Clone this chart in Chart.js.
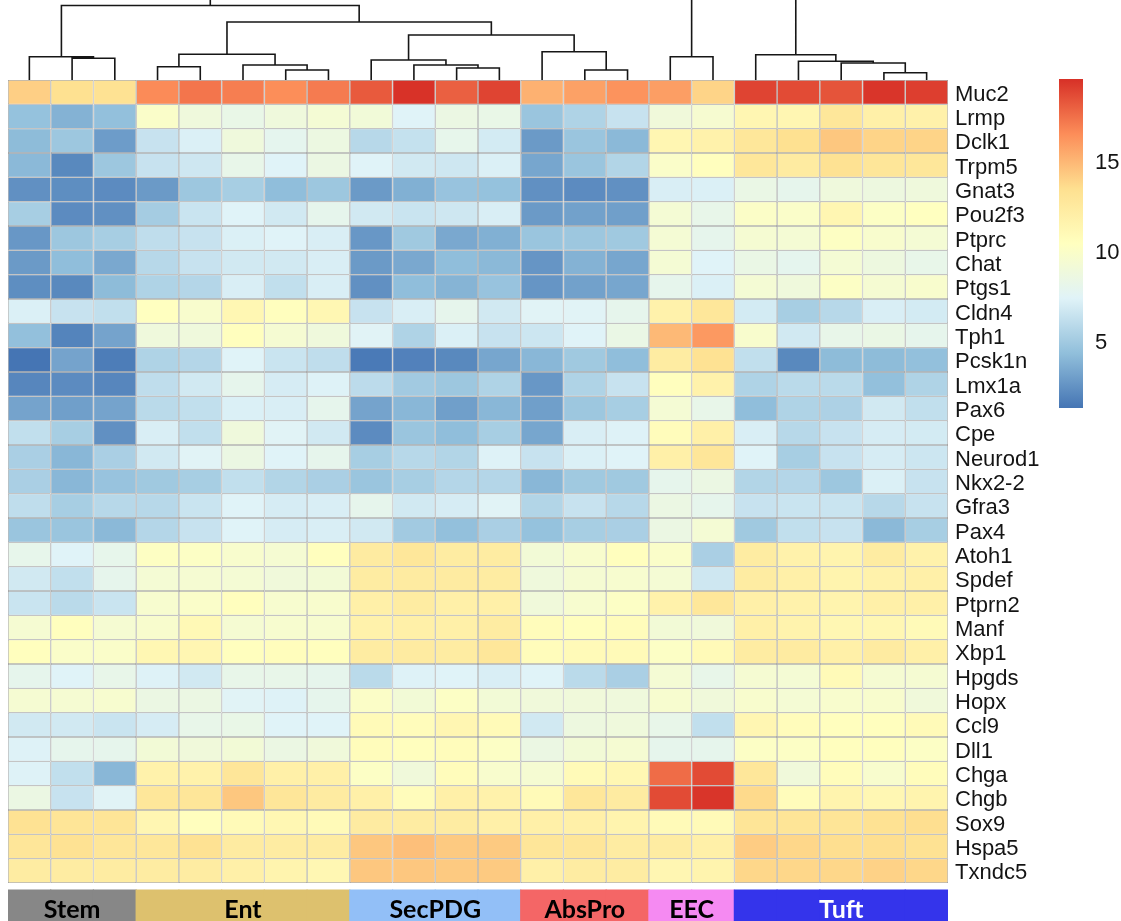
<!DOCTYPE html>
<html>
<head>
<meta charset="utf-8">
<title>Marker gene expression heatmap</title>
<script src="https://cdn.jsdelivr.net/npm/chart.js@4.4.1/dist/chart.umd.min.js"></script>
<style>
  html, body { margin: 0; padding: 0; background: #ffffff; }
  #wrap { position: relative; width: 1121px; height: 921px; overflow: hidden; }
  #heat { position: absolute; left: 0; top: 0; }
  #key { position: absolute; left: 1040px; top: 60px; }
</style>
</head>
<body>
<div id="wrap">
  <canvas id="heat" width="1121" height="921"></canvas>
  <canvas id="key" width="81" height="370"></canvas>
</div>
<script>
// ---- data ----------------------------------------------------------------
const genes = ['Muc2','Lrmp','Dclk1','Trpm5','Gnat3','Pou2f3','Ptprc','Chat','Ptgs1','Cldn4','Tph1',
  'Pcsk1n','Lmx1a','Pax6','Cpe','Neurod1','Nkx2-2','Gfra3','Pax4','Atoh1','Spdef','Ptprn2','Manf',
  'Xbp1','Hpgds','Hopx','Ccl9','Dll1','Chga','Chgb','Sox9','Hspa5','Txndc5'];

const sampleGroups = ['Stem','Stem','Stem','Ent','Ent','Ent','Ent','Ent','SecPDG','SecPDG','SecPDG','SecPDG',
  'AbsPro','AbsPro','AbsPro','EEC','EEC','Tuft','Tuft','Tuft','Tuft','Tuft'];

const groupOrder = ['Stem','Ent','SecPDG','AbsPro','EEC','Tuft'];

// log2 expression, one row per gene, columns follow sampleGroups
const expr = [
  [14.2,13.5,13.4,16.7,17.4,17.1,16.6,17.2,18.3,19.6,18.1,19.0,15.3,15.9,16.4,16.0,14.0,19.0,18.8,18.5,19.5,19.2], // Muc2
  [4.6,3.9,4.5,10.0,9.0,8.4,9.0,9.4,9.2,7.5,8.6,8.4,4.8,5.6,6.5,9.1,9.6,11.4,11.4,12.9,12.0,11.9],          // Lrmp
  [4.3,4.9,3.0,6.5,7.3,9.0,8.0,8.7,5.9,6.4,8.2,7.0,2.9,4.8,4.2,11.4,11.8,12.9,13.5,14.5,14.0,14.0],         // Dclk1
  [4.2,2.2,4.9,6.5,6.8,8.3,7.5,8.6,7.5,6.9,6.8,7.3,3.4,4.8,5.7,10.0,10.6,12.9,12.5,13.4,13.0,12.9],         // Trpm5
  [2.5,2.4,2.3,2.9,4.9,5.3,4.4,4.9,2.9,3.8,4.7,4.6,2.5,2.3,2.5,7.2,7.3,8.5,8.1,9.0,8.8,9.0],                // Gnat3
  [5.3,2.3,2.5,5.2,6.6,7.5,6.9,8.1,6.9,6.6,6.8,7.2,2.9,3.2,3.1,9.4,8.3,10.1,10.0,11.4,10.2,10.5],          // Pou2f3
  [2.8,4.9,5.3,6.2,6.5,7.3,7.5,7.2,2.8,5.0,3.5,3.8,4.8,4.9,5.0,9.4,8.1,9.5,9.4,10.3,9.8,9.4],              // Ptprc
  [2.9,4.4,3.5,5.9,6.5,6.9,6.9,7.2,2.9,3.5,4.4,4.2,2.7,3.9,3.4,9.4,7.5,8.5,8.0,9.4,8.8,8.3],                // Chat
  [2.4,2.2,4.3,5.6,5.8,7.2,6.3,7.2,2.5,4.4,4.0,4.7,2.7,3.2,3.4,8.1,7.3,9.4,9.0,10.2,9.5,9.8],               // Ptgs1
  [7.3,6.5,6.3,10.5,9.8,11.3,10.6,11.3,6.5,7.2,8.1,6.9,7.6,7.6,8.1,11.8,12.9,7.0,5.3,5.9,7.2,7.0],         // Cldn4
  [4.5,2.0,3.3,9.0,9.0,10.6,9.5,9.0,7.6,5.6,7.3,6.5,6.7,7.5,8.5,15.0,16.2,9.8,6.9,8.3,8.5,8.1],            // Tph1
  [1.4,3.3,1.7,5.6,5.8,7.5,6.6,6.2,1.6,1.9,2.2,3.4,4.1,5.0,4.4,12.4,13.4,6.3,2.2,4.3,4.3,4.5],             // Pcsk1n
  [2.1,2.3,2.1,6.2,6.9,8.1,7.1,7.4,6.1,5.1,4.9,5.6,2.8,5.6,6.5,10.6,11.8,5.6,6.0,6.0,4.5,5.6],             // Lmx1a
  [3.3,3.1,3.3,6.0,6.3,7.3,7.2,8.1,3.3,4.1,3.1,4.1,3.1,4.9,5.3,9.4,8.3,4.4,5.6,5.5,6.9,6.3],               // Pax6
  [6.3,5.3,2.5,7.2,6.3,9.0,7.6,6.9,2.3,4.8,4.4,5.3,3.4,7.2,7.4,10.8,12.0,7.2,5.9,6.5,7.1,7.0],             // Cpe
  [5.4,4.1,5.4,6.9,7.6,8.6,7.5,8.1,5.3,5.9,5.7,7.4,6.5,7.3,7.5,12.0,13.0,7.5,5.3,6.5,7.1,6.7],             // Neurod1
  [5.4,4.1,4.7,5.0,5.3,6.3,5.7,5.4,4.8,5.3,5.8,5.8,4.1,5.0,5.0,8.1,8.6,5.7,5.8,4.9,7.3,6.5],               // Nkx2-2
  [6.2,5.3,5.9,5.9,6.6,7.5,7.1,7.2,8.1,6.9,7.1,7.6,5.7,6.5,5.9,8.6,8.1,6.5,6.6,6.6,5.9,6.5],               // Gfra3
  [4.8,4.8,4.2,5.8,6.5,7.5,7.1,7.2,6.9,5.1,4.5,5.4,4.6,5.3,5.4,8.6,9.4,5.0,6.3,6.5,4.2,5.3],               // Pax4
  [8.2,7.5,8.2,10.3,10.2,9.8,9.5,10.6,12.5,12.9,12.4,12.4,9.3,9.8,10.6,10.0,5.4,12.4,11.8,11.6,12.4,11.8], // Atoh1
  [6.9,6.3,8.1,9.4,9.5,9.4,9.1,9.3,12.4,12.5,12.5,12.4,9.0,9.5,9.7,9.4,6.8,12.4,12.0,11.6,11.8,12.0],      // Spdef
  [6.6,6.0,6.6,9.7,10.0,10.6,9.7,9.8,12.0,12.4,12.0,12.0,9.1,9.7,10.2,11.8,12.9,12.0,11.8,11.6,12.0,12.0], // Ptprn2
  [9.5,10.6,9.5,9.8,11.1,9.5,9.7,9.7,11.8,12.0,12.0,12.4,10.8,10.6,10.8,9.3,9.1,12.0,11.7,11.3,11.3,11.0], // Manf
  [10.6,10.0,10.0,11.3,11.4,10.6,10.7,10.6,12.4,12.5,12.4,12.9,10.8,11.0,11.0,10.2,11.0,12.4,12.5,12.0,12.5,12.0], // Xbp1
  [8.1,7.5,8.3,7.4,6.9,8.3,8.3,8.1,6.0,7.4,7.5,7.2,7.5,6.0,5.4,9.4,8.3,9.5,9.4,11.0,9.5,9.5],             // Hpgds
  [9.5,9.5,9.7,8.6,8.6,7.6,7.4,8.1,10.1,9.3,10.2,9.3,9.1,9.1,9.0,9.7,9.1,9.8,9.4,9.8,9.8,9.1],             // Hopx
  [6.9,6.9,6.6,7.1,8.3,8.4,7.5,7.5,11.0,10.8,11.4,11.0,6.9,8.8,9.0,8.3,6.3,11.4,10.8,10.6,10.6,11.0],      // Ccl9
  [7.4,8.1,8.1,9.3,9.1,9.3,8.6,9.1,10.8,10.6,10.8,10.2,8.6,9.3,9.5,8.1,8.1,10.2,10.2,10.6,10.6,10.2],      // Dll1
  [7.4,6.3,4.1,11.8,11.8,13.0,12.0,12.0,10.2,9.1,10.8,9.8,9.5,11.0,11.3,17.7,18.8,12.9,9.1,10.8,9.8,10.8], // Chga
  [8.6,6.5,7.6,12.9,13.0,14.5,13.0,12.5,12.0,10.8,12.0,11.8,11.0,12.9,12.5,18.8,19.5,13.8,10.8,11.6,11.3,11.6], // Chgb
  [13.4,13.1,13.1,11.4,10.6,11.0,11.3,11.0,12.5,12.4,12.4,12.0,12.0,12.0,11.6,11.0,11.0,13.1,13.1,13.1,13.4,13.6], // Sox9
  [13.0,13.4,13.0,12.9,13.4,12.5,12.4,12.4,14.5,14.8,14.4,14.4,13.0,13.0,12.4,12.4,12.0,14.3,13.9,13.6,13.6,13.4], // Hspa5
  [12.4,12.4,12.4,12.4,12.4,12.0,11.6,11.3,14.5,14.5,14.4,14.4,12.0,12.4,12.4,11.4,11.6,13.9,13.9,13.9,14.1,13.9]  // Txndc5
];

// column clustering: [left, right, height]; 'cN' = sample N, 'mN' = merge N
const merges = [
  ['c1','c2',21.7], ['c0','m0',23.3],
  ['c3','c4',13.3], ['c6','c7',10.0], ['c5','m3',15.0], ['m2','m4',25.7],
  ['c10','c11',12.0], ['c9','m6',15.0], ['c8','m7',20.0],
  ['c13','c14',10.0], ['c12','m9',28.3],
  ['m8','m10',45.0], ['m5','m11',58.0], ['m1','m12',74.5],
  ['c15','c16',23.3],
  ['c20','c21',7.3], ['c19','m15',17.0], ['c18','m16',18.7], ['c17','m17',25.3],
  ['m14','m18',88.0], ['m13','m19',96.0]
];

const keyTicks = [5, 10, 15];

// ---- colour scale (reversed RdYlBu, 7 stops) --------------------------------
const palette = ['#4575B4','#91BFDB','#E0F3F8','#FFFFBF','#FEE090','#FC8D59','#D73027'];
const vMin = 1.39, vMax = 19.67;
const groupColors = { Stem:'#878787', Ent:'#DDC16E', SecPDG:'#92BFF7', AbsPro:'#F46666', EEC:'#F58AF2', Tuft:'#3434EB' };
const groupText = { Stem:'#000', Ent:'#000', SecPDG:'#000', AbsPro:'#000', EEC:'#000', Tuft:'#fff' };

function hexRgb(h) { return [1,3,5].map(i => parseInt(h.slice(i, i + 2), 16)); }
const paletteRgb = palette.map(hexRgb);
function colorFor(v) {
  let t = (v - vMin) / (vMax - vMin);
  t = Math.max(0, Math.min(1, t));
  const s = t * (palette.length - 1);
  const k = Math.min(palette.length - 2, Math.floor(s));
  const f = s - k;
  const a = paletteRgb[k], b = paletteRgb[k + 1];
  const c = a.map((x, i) => Math.round(x + (b[i] - x) * f));
  return `rgb(${c[0]},${c[1]},${c[2]})`;
}

// ---- derived datasets ------------------------------------------------------
const sampleLabels = sampleGroups.map((g, i) => g + ' ' + (sampleGroups.slice(0, i + 1).filter(x => x === g).length));

const heatDatasets = genes.map((g, r) => ({
  type: 'bar',
  label: g,
  data: expr[r].map(() => [r, r + 1]),
  backgroundColor: expr[r].map(colorFor),
  borderColor: '#9d9d9d',
  borderWidth: 0.7,
  borderSkipped: false,
  inflateAmount: 0,
  barPercentage: 1,
  categoryPercentage: 1,
  grouped: false,
  xAxisID: 'x',
  yAxisID: 'y'
}));

const annotBand = [33.29, 34.7];
const annotDataset = {
  type: 'bar',
  label: 'group',
  data: sampleGroups.map(() => annotBand),
  backgroundColor: sampleGroups.map(g => groupColors[g]),
  borderWidth: 0,
  inflateAmount: 0.6,
  barPercentage: 1,
  categoryPercentage: 1,
  grouped: false,
  xAxisID: 'x',
  yAxisID: 'y'
};

function dendroPoints() {
  const pos = {};
  sampleGroups.forEach((_, i) => { pos['c' + i] = { x: i + 0.5, h: 0 }; });
  const pts = [];
  merges.forEach(([a, b, h], k) => {
    const A = pos[a], B = pos[b];
    pts.push({ x: A.x, y: A.h }, { x: A.x, y: h }, { x: B.x, y: h }, { x: B.x, y: B.h }, { x: B.x, y: null });
    pos['m' + k] = { x: (A.x + B.x) / 2, h: h };
  });
  return pts;
}

const dendroDataset = {
  type: 'line',
  label: 'tree',
  data: dendroPoints(),
  borderColor: '#161616',
  borderWidth: 1.6,
  pointRadius: 0,
  tension: 0,
  spanGaps: false,
  fill: false,
  xAxisID: 'xd',
  yAxisID: 'yd'
};

// group names written on the annotation band
const groupLabelPlugin = {
  id: 'groupLabels',
  afterDatasetsDraw(chart) {
    const { ctx } = chart;
    const xs = chart.scales.x, ys = chart.scales.y;
    ctx.save();
    ctx.font = "bold 25px Lato, 'Liberation Sans', sans-serif";
    ctx.textAlign = 'center';
    ctx.textBaseline = 'alphabetic';
    const yBase = ys.getPixelForValue(annotBand[0]) + 28;
    groupOrder.forEach(g => {
      const first = sampleGroups.indexOf(g), last = sampleGroups.lastIndexOf(g);
      const cx = (xs.getPixelForValue(first) + xs.getPixelForValue(last)) / 2;
      ctx.fillStyle = groupText[g];
      ctx.fillText(g, cx, yBase);
    });
    ctx.restore();
  }
};

// keep vertical axes from reserving room for half a label at each end
function noEndPadding(scale, width) {
  scale.width = width;
  scale.paddingTop = 0;
  scale.paddingBottom = 0;
}

Chart.defaults.font.family = "'Liberation Sans', Arial, sans-serif";

new Chart(document.getElementById('heat'), {
  type: 'bar',
  data: { labels: sampleLabels, datasets: [...heatDatasets, annotDataset, dendroDataset] },
  options: {
    responsive: false,
    animation: false,
    events: [],
    layout: { padding: { left: 8, right: 0, top: 0, bottom: 0 } },
    plugins: { legend: { display: false }, tooltip: { enabled: false } },
    scales: {
      x: { type: 'category', display: false, offset: true, grid: { display: false } },
      xd: { type: 'linear', display: false, offset: false, min: 0, max: sampleGroups.length },
      y: {
        type: 'linear',
        position: 'right',
        reverse: true,
        min: -3.288,
        max: 34.562,
        grid: { display: false, drawTicks: false },
        border: { display: false },
        afterBuildTicks(scale) { scale.ticks = genes.map((g, i) => ({ value: i + 0.5 })); },
        afterFit(scale) { noEndPadding(scale, 173); },
        ticks: {
          autoSkip: false,
          padding: 7,
          labelOffset: 2.5,
          color: '#141414',
          font: { size: 22 },
          callback: (v, i) => genes[i]
        }
      },
      yd: { type: 'linear', display: false, offset: false, min: -841, max: 80 }
    }
  },
  plugins: [groupLabelPlugin]
});

// colour key
new Chart(document.getElementById('key'), {
  type: 'bar',
  data: {
    labels: [''],
    datasets: [{
      data: [[vMin, vMax]],
      borderWidth: 0,
      barPercentage: 1,
      categoryPercentage: 1,
      backgroundColor(c) {
        const chart = c.chart;
        if (!chart.chartArea) return palette[0];
        const ys = chart.scales.y;
        const g = chart.ctx.createLinearGradient(0, ys.getPixelForValue(vMin), 0, ys.getPixelForValue(vMax));
        palette.forEach((col, i) => g.addColorStop(i / (palette.length - 1), col));
        return g;
      }
    }]
  },
  options: {
    responsive: false,
    animation: false,
    events: [],
    layout: { padding: { left: 19, right: 0, top: 19, bottom: 22 } },
    plugins: { legend: { display: false }, tooltip: { enabled: false } },
    scales: {
      x: { display: false, offset: true },
      y: {
        position: 'right',
        min: vMin,
        max: vMax,
        grid: { display: false, drawTicks: false },
        border: { display: false },
        afterBuildTicks(scale) { scale.ticks = keyTicks.map(v => ({ value: v })); },
        afterFit(scale) { noEndPadding(scale, 38); },
        ticks: { padding: 12, color: '#141414', font: { size: 22 } }
      }
    }
  }
});
</script>
</body>
</html>
